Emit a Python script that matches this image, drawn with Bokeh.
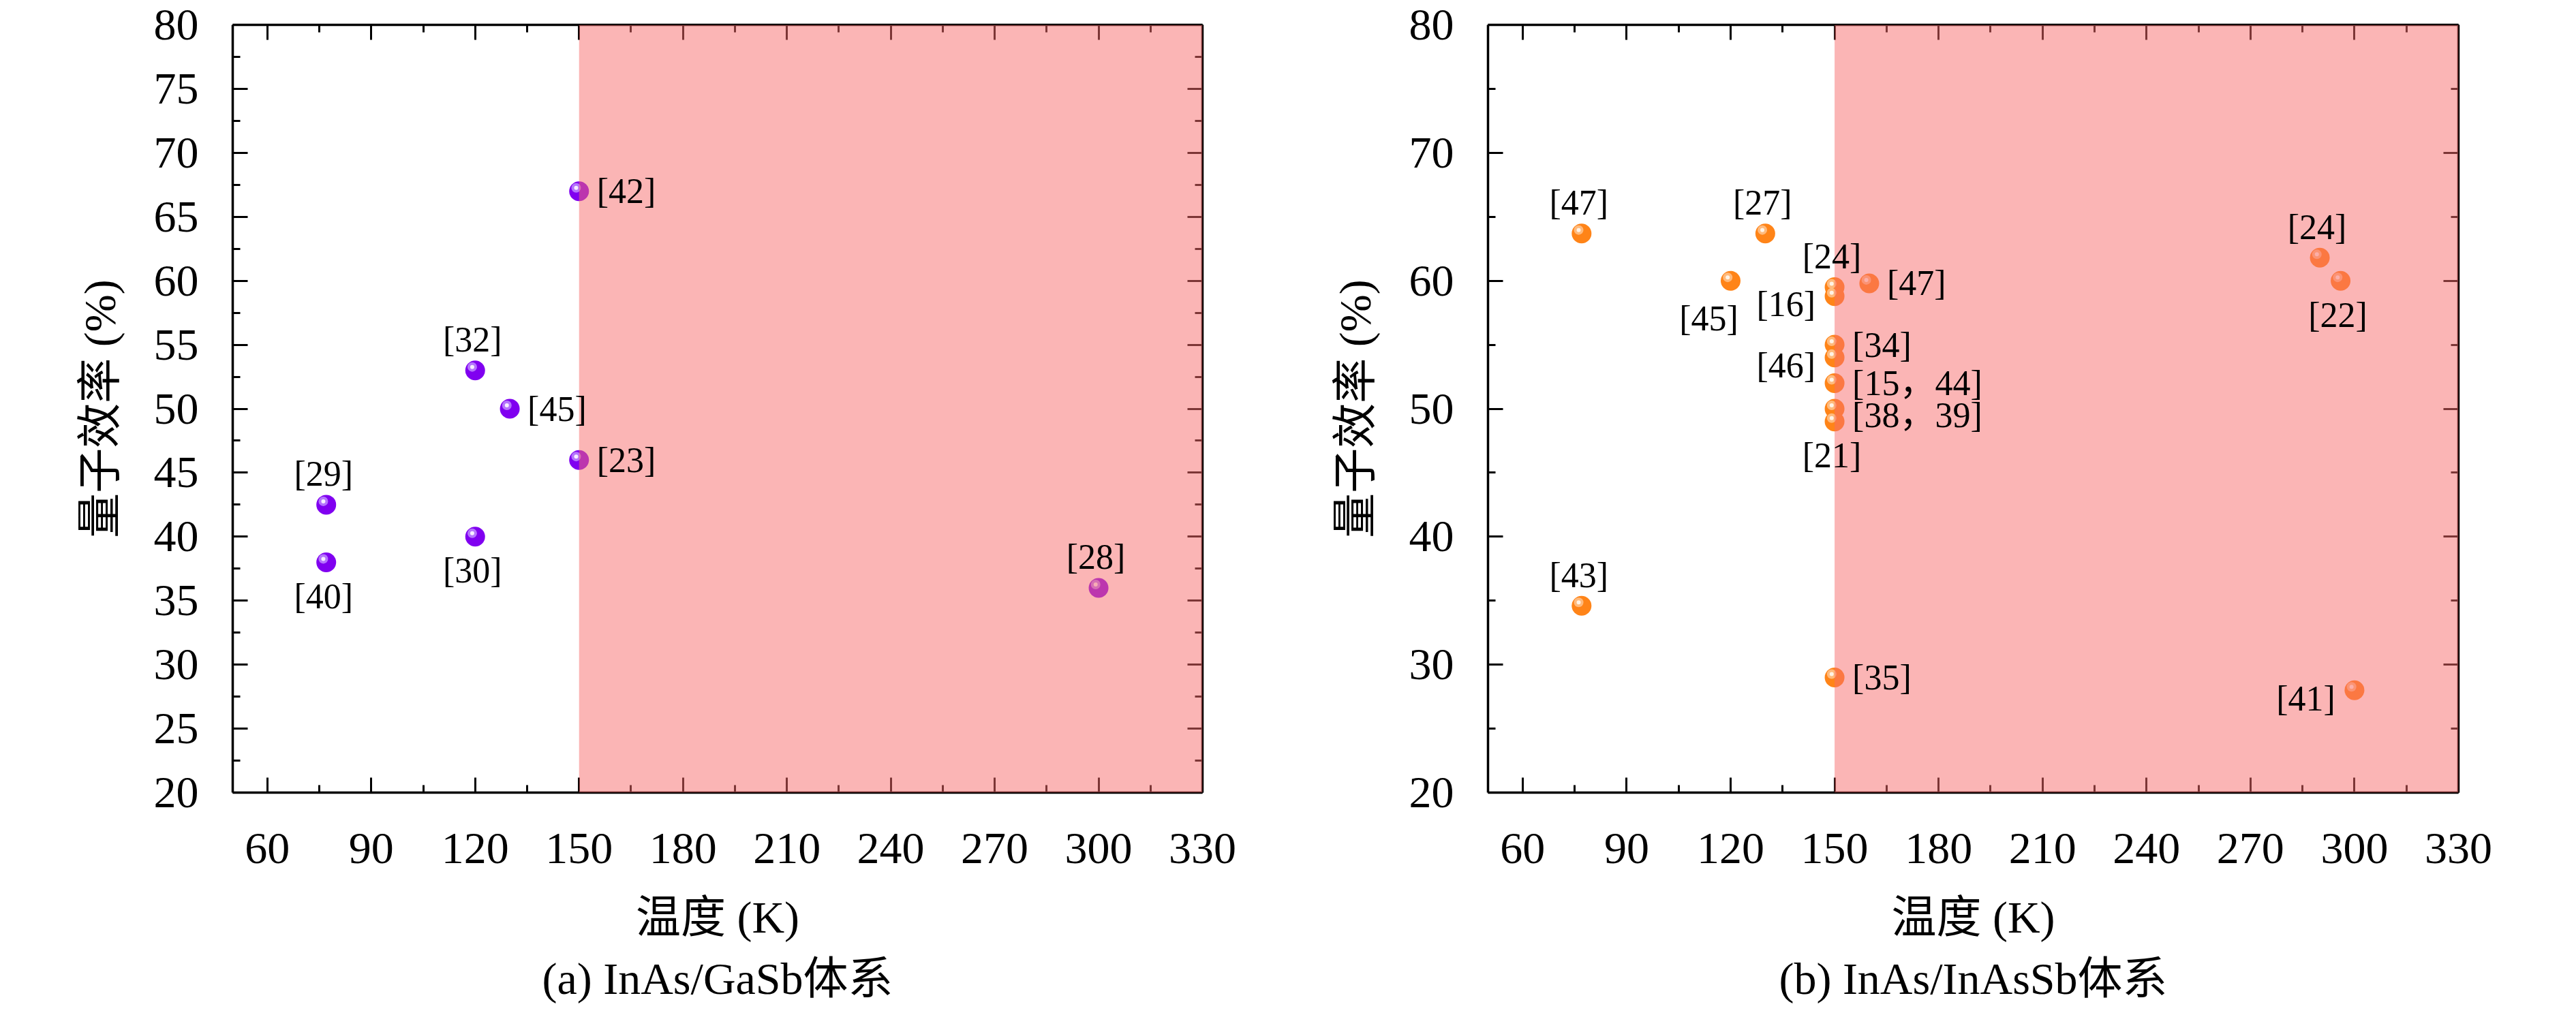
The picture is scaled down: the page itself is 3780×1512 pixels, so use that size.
from bokeh.plotting import figure
from bokeh.models import (BoxAnnotation, LinearAxis, FixedTicker, Range1d, Title,
                          ColumnDataSource)
from bokeh.layouts import row
from bokeh.embed import file_html
from bokeh.resources import INLINE
from bokeh.core.properties import value
from bokeh.transform import dodge

# ---------------- data ----------------
temp_a = [77, 77, 120, 120, 130, 150, 150, 300]
qe_a = [42.5, 38.0, 53.0, 40.0, 50.0, 67.0, 46.0, 36.0]
ref_a = ["[29]", "[40]", "[32]", "[30]", "[45]", "[42]", "[23]", "[28]"]
place_a = ["above", "below", "above", "below", "right", "right", "right", "above"]

temp_b = [77, 77, 130, 120, 150, 150, 160, 150, 150, 150, 150, 150, 150, 290, 296, 300]
qe_b = [63.7, 34.6, 63.7, 60.0, 59.5, 58.8, 59.8, 55.0, 54.0, 52.0, 50.0, 49.0, 29.0, 61.8, 60.0, 28.0]
ref_b = ["[47]", "[43]", "[27]", "[45]", "[24]", "[16]", "[47]", "[34]", "[46]",
         "[15，44]", "[38，39]", "[21]", "[35]", "[24]", "[22]", "[41]"]
place_b = ["above", "above", "above", "below_left", "above", "left", "right", "right", "left",
           "right", "right_low", "below", "right", "above", "below", "left"]

x_ticks = [60, 90, 120, 150, 180, 210, 240, 270, 300, 330]
x_minor = [75, 105, 135, 165, 195, 225, 255, 285, 315]
y_ticks_a = [20, 25, 30, 35, 40, 45, 50, 55, 60, 65, 70, 75, 80]
y_minor_a = [22.5, 27.5, 32.5, 37.5, 42.5, 47.5, 52.5, 57.5, 62.5, 67.5, 72.5, 77.5]
y_ticks_b = [20, 30, 40, 50, 60, 70, 80]
y_minor_b = [25, 35, 45, 55, 65, 75]

x_label = "温度 (K)"
y_label = "量子效率 (%)"
caption_a = "(a) InAs/GaSb体系"
caption_b = "(b) InAs/InAsSb体系"
hot_limit = 150

# ---------------- style ----------------
FONT = "Liberation Serif, Noto Sans CJK SC"
OFF = {"above": (-4, -45, "center"), "below": (-4, 50, "center"),
       "right": (26, 0, "left"), "right_low": (26, 9, "left"),
       "left": (-28, 12, "right"), "below_left": (-32, 55, "center")}


def make(temps, qes, refs, places, yt, ym, caption, colors, border_left, border_right):
    W, H = 1882, 1496
    top = 36
    fw = W - border_left - border_right
    fh = 1127
    p = figure(width=W, height=H, x_range=Range1d(50, 330), y_range=Range1d(20, 80),
               output_backend="svg", toolbar_location=None,
               min_border_left=border_left, min_border_right=border_right,
               min_border_top=top, min_border_bottom=H - top - fh,
               x_axis_location=None, y_axis_location=None)
    p.grid.visible = False
    p.outline_line_color = None
    p.background_fill_color = "white"
    p.border_fill_color = "white"

    def style(ax, ticks, minor, show):
        ax.ticker = FixedTicker(ticks=ticks, minor_ticks=minor)
        ax.axis_line_width = 3.5
        ax.axis_line_color = "black"
        ax.major_tick_in = 22
        ax.major_tick_out = 0
        ax.minor_tick_in = 11
        ax.minor_tick_out = 0
        ax.major_tick_line_width = 3
        ax.minor_tick_line_width = 3
        ax.major_tick_line_color = "black"
        ax.minor_tick_line_color = "black"
        if show:
            ax.major_label_text_font = FONT
            ax.major_label_text_font_size = "66px"
            ax.major_label_text_color = "black"
            ax.axis_label_text_font = FONT
            ax.axis_label_text_font_size = "66px"
            ax.axis_label_text_font_style = "normal"
            ax.axis_label_text_color = "black"
        else:
            ax.major_label_text_font_size = "1px"
            ax.major_label_text_alpha = 0
            ax.major_label_standoff = 0

    xb = LinearAxis(axis_label=x_label)
    style(xb, x_ticks, x_minor, True)
    xb.major_label_standoff = 60
    xb.axis_label_standoff = 40
    p.add_layout(xb, "below")
    yl = LinearAxis(axis_label=y_label)
    style(yl, yt, ym, True)
    yl.major_label_standoff = 50
    yl.axis_label_standoff = 40
    p.add_layout(yl, "left")
    xt = LinearAxis()
    style(xt, x_ticks, x_minor, False)
    p.add_layout(xt, "above")
    yr = LinearAxis()
    style(yr, yt, ym, False)
    p.add_layout(yr, "right")

    cap = Title(text=caption, align="center", vertical_align="bottom", text_font=FONT,
                text_font_size="66px", text_font_style="normal", text_color="black",
                standoff=25)
    p.add_layout(cap, "below")

    src = ColumnDataSource(dict(x=temps, y=qes, ref=refs,
                                dx=[OFF[k][0] for k in places],
                                dy=[OFF[k][1] for k in places],
                                al=[OFF[k][2] for k in places]))
    base, halo, core = colors
    px_x = fw / 280.0
    px_y = fh / 60.0
    p.scatter("x", "y", source=src, size=29, fill_color=base, line_color=None)
    p.scatter(dodge("x", -4.3 / px_x), dodge("y", 5 / px_y), source=src, size=14,
              fill_color=halo, fill_alpha=0.85, line_color=None)
    p.scatter(dodge("x", -4.3 / px_x), dodge("y", 5 / px_y), source=src, size=6,
              fill_color=core, line_color=None)

    p.add_layout(BoxAnnotation(left=hot_limit, fill_color="#F86C6C", fill_alpha=0.5,
                               line_color=None))

    p.text("x", "y", text="ref", source=src, x_offset="dx", y_offset="dy",
           text_align="al", text_baseline="middle", text_font=value(FONT),
           text_font_size="52px", text_color="black", level="overlay")
    return p


p1 = make(temp_a, qe_a, ref_a, place_a, y_ticks_a, y_minor_a, caption_a,
          ("#8000F0", "#BE88FF", "#F6EEFF"), 341, 118)
p2 = make(temp_b, qe_b, ref_b, place_b, y_ticks_b, y_minor_b, caption_b,
          ("#FF8418", "#FFC38E", "#FFF3E6"), 301, 157)

layout = row(p1, p2)
open("out.html", "w").write(file_html(layout, INLINE))
